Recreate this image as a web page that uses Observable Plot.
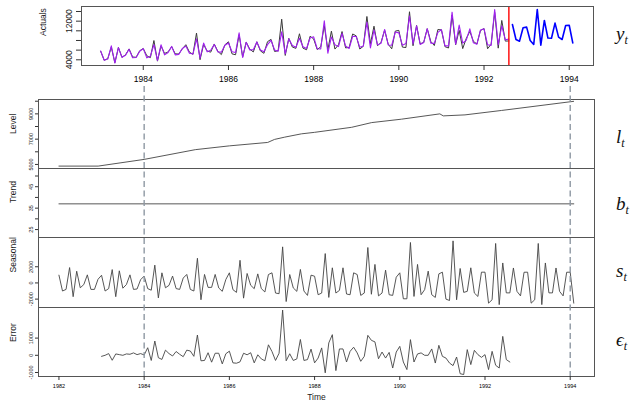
<!DOCTYPE html>
<html><head><meta charset="utf-8">
<script src="https://cdn.jsdelivr.net/npm/d3@7"></script>
<script src="https://cdn.jsdelivr.net/npm/@observablehq/plot@0.6"></script>
<style>
body{margin:0;background:#fff;}
#wrap{position:relative;width:636px;height:404px;overflow:hidden;}
.m{position:absolute;font-family:"Liberation Serif","DejaVu Serif",serif;font-style:italic;font-size:19px;color:#111;line-height:1;white-space:nowrap;}
.m sub{font-size:12px;vertical-align:-4px;}
</style></head><body><div id="wrap"></div><script>
// ---------- data ----------
const seasonalStart = 1982;            // Jan 1982, monthly
const seasonal = [
  960,-1000,-800,1900,-1700,1450,-600,-200,1000,-800,-800,450,
  950,-1000,-700,1650,-1700,1500,-650,-200,1000,-800,-750,400,
  850,-700,-900,2200,-1850,1250,-600,-300,850,-700,-800,600,
  1050,-800,-1000,3050,-2080,1050,-550,-550,1050,-620,-1040,420,
  1250,-830,-1170,2800,-1880,1170,-290,-710,1120,-700,-1120,1040,
  1250,-1250,-1330,4460,-2300,1040,-620,-1040,1670,-1000,-1540,960,
  830,-1460,-1250,3630,-1790,1870,-1250,-920,1870,-1370,-1460,1250,
  1040,-1540,-1250,4380,-1400,2290,-1600,-1250,1580,-1460,-1540,710,
  1250,-1960,-1960,5000,-1670,2290,-1460,-830,1460,-1460,-1790,1120,
  1330,-2000,-2170,5200,-2080,1790,-1170,-1040,1870,-1250,-1670,1330,
  1330,-2500,-2080,4880,-2680,2470,-1230,-1230,1850,-1040,-1600,1320,
  1330,-2500,-2080,4880,-2680,2470,-1230,-1230,1850,-1040,-1600,1320,
  1330,-2500
];
const obsStart = 1983;                 // Jan 1983, monthly
const errors = [
  -60,0,100,-290,80,40,0,80,60,140,40,100,
  20,440,-300,830,-140,-240,300,100,-40,220,60,-80,
  300,250,-60,1180,-320,-300,150,-400,120,120,-500,90,
  240,-440,-460,-380,120,30,150,-440,30,-210,-320,610,
  220,-300,120,2630,-320,90,-300,-210,920,-300,-250,360,
  -440,-160,430,-1020,720,1200,-890,370,370,-390,230,470,
  140,-350,-60,1160,870,780,-200,190,-160,170,-740,190,
  520,-390,-830,910,-390,80,140,0,0,370,-450,580,
  -60,-160,-450,-600,-100,-1070,-1120,330,-540,290,40,-120,
  40,-830,230,-580,-740,1100,-250,-390
];
const actuals = [
  5770,3910,4250,6600,3410,6560,4510,5030,6250,4580,4520,5870,
  6330,4840,4450,7990,3720,6870,5320,5620,6730,5240,5190,6250,
  7130,5590,5130,9530,4020,7170,5800,5580,7280,5760,5080,7100,
  7730,5230,5040,9190,4590,7650,6200,5630,7730,5840,5340,7750,
  8230,5720,5880,12410,4900,8440,6640,6370,9390,6410,6080,8880,
  8320,6130,6680,11060,6070,9930,6220,7100,9850,6460,6570,9350,
  8950,6230,6800,12970,7320,10960,6890,7640,10120,7240,6270,9940,
  10090,6630,6540,13950,6910,11110,7320,7570,10440,7810,6950,10270,
  10190,6720,6440,13260,7110,10110,6320,8420,9870,7820,7270,10060,
  10460,6290,7220,13810,6410,12150,7870,7900
];
const fitted = [
  5830,3910,4150,6890,3330,6520,4510,4950,6190,4440,4480,5770,
  6310,4400,4750,7160,3860,7110,5020,5520,6770,5020,5130,6330,
  6830,5340,5190,8350,4340,7470,5650,5980,7160,5640,5580,7010,
  7490,5670,5500,9570,4470,7620,6050,6070,7700,6050,5660,7140,
  8010,6020,5760,9780,5220,8350,6940,6580,8470,6710,6330,8520,
  8760,6290,6250,12080,5350,8730,7110,6730,9480,6850,6340,8880,
  8810,6580,6860,11810,6450,10180,7090,7450,10280,7070,7010,9750,
  9570,7020,7370,13040,7300,11030,7180,7570,10440,7440,7400,9690,
  10250,6880,6890,13860,7210,11180,7440,8090,10410,7530,7230,10180,
  10420,7120,6990,14390,7150,11050,8120,8290
];
const forecastStart = 1992 + 8/12;     // Sep 1992, monthly
const forecast = [11320,8200,7860,10630,10760,8000,7170,14420,7030,12150,8500,8450,11600,8700,8200,11100,11150,7500];
const forecastOrigin = 1992 + 7/12;
const levelTimes  = [1982.0,1982.92,1984.0,1985.2,1986.0,1986.9,1987.06,1987.3,1987.69,1988.0,1988.87,1989.34,1990.04,1990.94,1991.02,1991.53,1992.39,1994.08];
const levelValues = [4870,4870,5400,6170,6470,6740,6980,7160,7420,7540,7937,8310,8580,9000,8840,8920,9270,9990];
const trendTimes  = [1982.0, 1994 + 1/12];
const trendValues = [37, 37];
const markerYears = [1984, 1994];
const topXTicks = [1984,1986,1988,1990,1992,1994];
const bottomXTicks = [1982,1984,1986,1988,1990,1992,1994];
const actualsYTicks = [4000,6000,8000,10000,12000,14000], actualsYLabels = [4000,12000];
const levelYTicks = [5000,6000,7000,8000,9000,10000], levelYLabels = [5000,7000,9000];
const trendYTicks = [25,30,35,40,45,50], trendYLabels = [25,35,45];
const seasonalYTicks = [-2000,0,2000], seasonalYLabels = [-2000,0,2000];
const errorYTicks = [-1000,0,1000], errorYLabels = [-1000,0,1000];
const panelLabels = ["Level","Trend","Seasonal","Error"];

// ---------- drawing ----------
const FONT = '"Liberation Sans", Arial, Helvetica, sans-serif';
const wrap = document.getElementById("wrap");
const LINE = "#444", FRAME = "#555";
const topDomain = [1982.55, 1994.57];
const botDomain = [1981.52, 1994.57];

function style(top, bg) {
  return {position: "absolute", left: "0px", top: top + "px", fontFamily: FONT, background: bg || "transparent", overflow: "visible", maxWidth: "none"};
}
function yAxisMarks(ticks, labels, fs, dxText, tickSize) {
  return [
    Plot.axisY({ticks, tickSize, tickFormat: () => "", label: null, stroke: "#333"}),
    Plot.text(labels, {y: d => d, text: d => String(d), frameAnchor: "left", dx: dxText, rotate: -90,
      textAnchor: "middle", lineAnchor: "bottom", fontSize: fs, fill: "#222"})
  ];
}

// top panel: actuals / fitted / forecast
wrap.appendChild(Plot.plot({
  width: 636, height: 95, marginLeft: 81, marginRight: 43, marginTop: 6, marginBottom: 30,
  style: style(0),
  x: {domain: topDomain, axis: null},
  y: {domain: [2820, 15035], axis: null},
  marks: [
    Plot.line(actuals, {x: (d, i) => obsStart + i / 12, y: d => d, stroke: "#3a3a3a", strokeWidth: 1}),
    Plot.line(fitted, {x: (d, i) => obsStart + i / 12, y: d => d, stroke: "#a020f0", strokeWidth: 1.1}),
    Plot.line(forecast, {x: (d, i) => forecastStart + i / 12, y: d => d, stroke: "#0000ff", strokeWidth: 1.6}),
    Plot.ruleX([forecastOrigin], {stroke: "#ff0000", strokeWidth: 1.4}),
    Plot.frame({stroke: FRAME, strokeWidth: 1}),
    Plot.axisX({ticks: topXTicks, tickSize: 5, tickPadding: 5, tickFormat: d => String(d), label: null, fontSize: 8.5, stroke: "#333"}),
    ...yAxisMarks(actualsYTicks, actualsYLabels, 8.5, -10, 5),
    Plot.text(["Actuals"], {text: d => d, frameAnchor: "left", dx: -38, rotate: -90, fontSize: 8.5, fill: "#222"})
  ]
}));

function panel(top, height, marginBottom, domain, ticks, labels, label, marks, xAxis) {
  const extra = [];
  if (xAxis) {
    extra.push(Plot.axisX({ticks: bottomXTicks, tickSize: 4, tickPadding: 4, tickFormat: d => String(d), label: null, fontSize: 5.5, stroke: "#333"}));
    extra.push(Plot.text(["Time"], {text: d => d, frameAnchor: "bottom", dy: 23, fontSize: 8.5, fill: "#222"}));
  }
  wrap.appendChild(Plot.plot({
    width: 636, height, marginLeft: 38, marginRight: 42, marginTop: 0, marginBottom,
    style: style(top),
    x: {domain: botDomain, axis: null},
    y: {domain, axis: null},
    marks: [
      ...marks,
      Plot.frame({stroke: FRAME, strokeWidth: 1}),
      ...yAxisMarks(ticks, labels, 5.5, -6, 3),
      Plot.text([label], {text: d => d, frameAnchor: "left", dx: -25, rotate: -90, fontSize: 8.5, fill: "#222"}),
      ...extra
    ]
  }));
}

panel(99, 69, 0, [4680, 10136], levelYTicks, levelYLabels, panelLabels[0], [
  Plot.line(levelValues, {x: (d, i) => levelTimes[i], y: d => d, stroke: LINE, strokeWidth: 0.9})
], false);
panel(168, 69, 0, [21.3, 53.5], trendYTicks, trendYLabels, panelLabels[1], [
  Plot.line(trendValues, {x: (d, i) => trendTimes[i], y: d => d, stroke: LINE, strokeWidth: 0.9})
], false);
panel(237, 70, 0, [-3037, 5617], seasonalYTicks, seasonalYLabels, panelLabels[2], [
  Plot.line(seasonal, {x: (d, i) => seasonalStart + i / 12, y: d => d, stroke: LINE, strokeWidth: 0.9})
], false);
panel(307, 97, 28, [-1233, 2780], errorYTicks, errorYLabels, panelLabels[3], [
  Plot.line(errors, {x: (d, i) => obsStart + i / 12, y: d => d, stroke: LINE, strokeWidth: 0.9})
], true);

// dashed marker lines across the component panels
wrap.appendChild(Plot.plot({
  width: 636, height: 290, marginLeft: 38, marginRight: 42, marginTop: 0, marginBottom: 0,
  style: style(86),
  x: {domain: botDomain, axis: null},
  marks: [Plot.ruleX(markerYears, {stroke: "#8e98a3", strokeWidth: 1.4, strokeDasharray: "6,3.5"})]
}));

// right-hand state labels
const symbols = [["y", 24], ["l", 127], ["b", 194], ["s", 261], ["\u03f5", 330]];
for (const [s, y] of symbols) {
  const el = document.createElement("div");
  el.className = "m";
  el.style.left = "616px"; el.style.top = y + "px";
  el.innerHTML = s + "<sub>t</sub>";
  wrap.appendChild(el);
}
</script></body></html>
